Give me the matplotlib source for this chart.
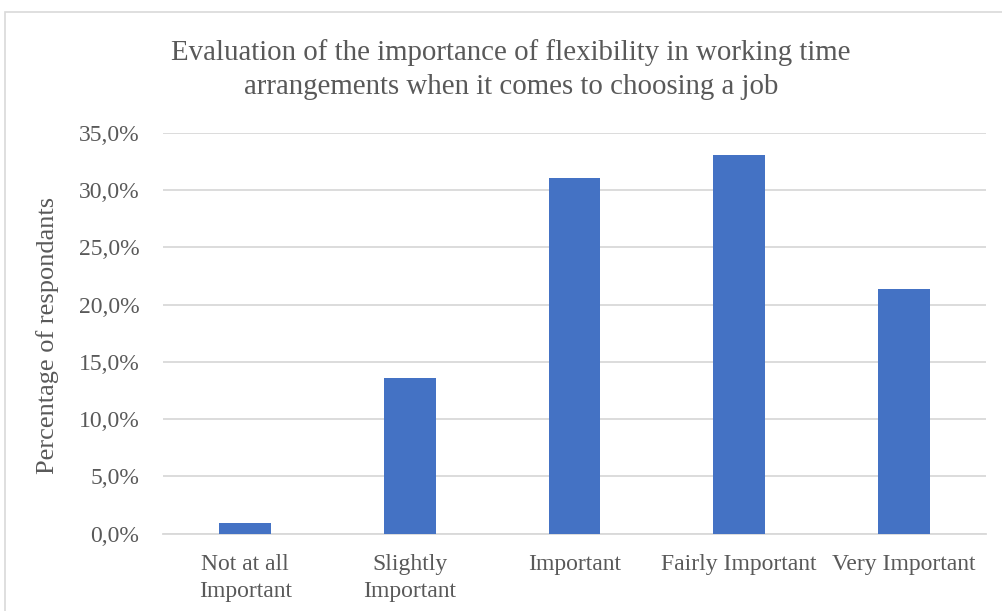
import matplotlib
matplotlib.use("Agg")
import matplotlib.pyplot as plt
from matplotlib.patches import Rectangle
from matplotlib.ticker import FuncFormatter, MultipleLocator
import numpy as np

# survey answers, share of respondents
categories = ["Not at all\nImportant", "Slightly\nImportant", "Important",
              "Fairly Important", "Very Important"]
shares = [0.009, 0.136, 0.311, 0.331, 0.214]

title = ("Evaluation of the importance of flexibility in working time\n"
         "arrangements when it comes to choosing a job")
ylabel = "Percentage of respondants"

text_col = "#595959"
grid_col = "#D9D9D9"
bar_col = "#4472C4"

plt.rcParams["font.family"] = ["Liberation Serif", "DejaVu Serif"]

fig = plt.figure(figsize=(10.03, 6.11), dpi=100)
ax = fig.add_axes([163 / 1003, 1 - 533.5 / 611, (986 - 163) / 1003, (533.5 - 133.1) / 611])

x = np.arange(len(categories))
ax.bar(x, shares, width=0.314, color=bar_col, zorder=3)

ax.set_xlim(-0.5, len(categories) - 0.5)
ax.set_ylim(0, 0.35)
ax.yaxis.set_major_locator(MultipleLocator(0.05))
ax.yaxis.set_major_formatter(FuncFormatter(lambda v, p: f"{v * 100:.1f}%".replace(".", ",")))
ax.grid(axis="y", color=grid_col, linewidth=1.3, zorder=0)

for s in ["top", "right", "left"]:
    ax.spines[s].set_visible(False)
ax.spines["bottom"].set_color(grid_col)
ax.spines["bottom"].set_linewidth(1.3)

ax.set_xticks(x)
ax.set_xticklabels(categories, linespacing=1.38)
ax.tick_params(axis="both", length=0, labelsize=17, labelcolor=text_col)
ax.tick_params(axis="y", pad=17)
ax.tick_params(axis="x", pad=15)

fig.text(511 / 1003, 1 - 70 / 611, title, ha="center", va="center",
         fontsize=20.8, color=text_col, linespacing=1.4)
fig.text(48 / 1003, 1 - 335 / 611, ylabel, ha="center", va="center",
         rotation=90, fontsize=19, color=text_col)

# chart frame
fig.patches.append(Rectangle((4.5 / 1003, -0.2), 1.5, 1.2 - 12 / 611,
                             transform=fig.transFigure, fill=False,
                             edgecolor=grid_col, linewidth=1.2))

fig.savefig("out.png", dpi=100)
